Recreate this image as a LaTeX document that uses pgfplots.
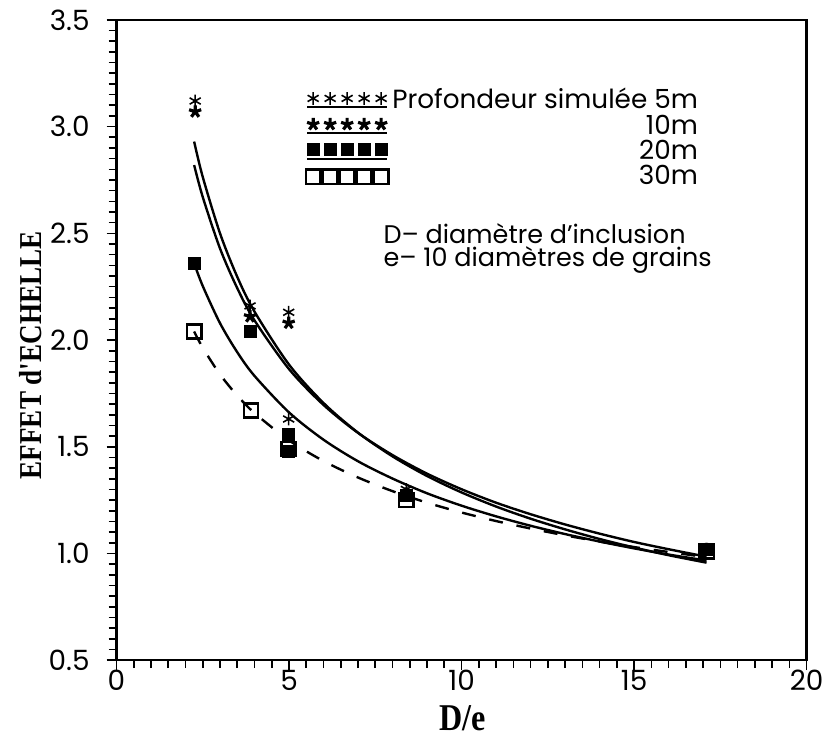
\documentclass[border=0pt]{standalone}
\usepackage{fontspec}
\setmainfont{Poppins}
\newfontfamily\labfont[FakeStretch=0.85]{Liberation Serif}
\usepackage{pgfplots}
\pgfplotsset{compat=1.18}
\pgfplotsset{
  mylegend/.style={legend image code/.code={
    \draw[##1] plot coordinates {(0.1cm,0.03cm) (0.4cm,0.03cm) (0.7cm,0.03cm) (1.0cm,0.03cm) (1.3cm,0.03cm)};
    \draw[line width=1pt] (0cm,-0.13cm) -- (1.4cm,-0.13cm);
  }},
  mylegendnoline/.style={legend image code/.code={
    \draw[##1] plot coordinates {(0.1cm,0cm) (0.4cm,0cm) (0.7cm,0cm) (1.0cm,0cm) (1.3cm,0cm)};
  }},
}
\begin{document}
\begin{tikzpicture}
\begin{axis}[
  scale only axis, width=346.5pt, height=321.5pt,
  xmin=0, xmax=20, ymin=0.5, ymax=3.5,
  xtick={0,5,10,15,20}, ytick={0.5,1.0,1.5,2.0,2.5,3.0,3.5},
  minor x tick num=9, minor y tick num=9,
  /pgf/number format/assume math mode=true,
  yticklabel style={xshift=-5pt, /pgf/number format/fixed, /pgf/number format/fixed zerofill, /pgf/number format/precision=1},
  xticklabel style={yshift=3.5pt},
  tick align=outside, tick pos=left,
  major tick length=5pt, minor tick length=4pt,
  axis line style={line width=1.2pt},
  every tick/.style={black, line width=0.8pt},
  ticklabel style={font=\fontsize{14}{16}\selectfont},
  xlabel={\labfont\bfseries D/e},
  ylabel={\labfont\bfseries EFFET d'ECHELLE},
  xlabel style={at={(axis description cs:0.502,-0.09)}, anchor=center, font=\fontsize{19}{21}\selectfont},
  ylabel style={at={(axis description cs:-0.125,0.476)}, anchor=center, font=\fontsize{16}{18}\selectfont},
  legend cell align=right,
  legend style={at={(axis description cs:0.274,0.9)}, anchor=north west, draw=none, fill=none,
    font=\fontsize{13.2}{14}\selectfont, row sep=-2.5pt, inner sep=0pt},
]
% fitted curves
\addplot[line width=1.2pt, smooth, forget plot] coordinates {
(2.25,2.93) (2.5,2.764) (3,2.500) (3.5,2.296) (4,2.133) (5,1.885) (6,1.705) (7,1.566) (8,1.455) (9,1.363) (10,1.286) (11,1.220) (12,1.163) (13,1.113) (14,1.068) (15,1.028) (16,0.992) (17.1,0.957)};
\addplot[line width=1.2pt, smooth, forget plot] coordinates {
(2.25,2.82) (2.5,2.670) (3,2.429) (3.5,2.243) (4,2.092) (5,1.864) (6,1.696) (7,1.565) (8,1.461) (9,1.374) (10,1.301) (11,1.238) (12,1.184) (13,1.136) (14,1.093) (15,1.054) (16,1.020) (17.1,0.985)};
\addplot[line width=1.2pt, smooth, forget plot] coordinates {
(2.25,2.36) (2.5,2.253) (3,2.079) (3.5,1.943) (4,1.832) (5,1.661) (6,1.533) (7,1.432) (8,1.351) (9,1.282) (10,1.224) (11,1.174) (12,1.130) (13,1.091) (14,1.056) (15,1.024) (16,0.995) (17.1,0.967)};
\addplot[line width=1.2pt, smooth, dash pattern=on 7pt off 7pt, forget plot] coordinates {
(2.25,2.04) (2.5,1.964) (3,1.839) (3.5,1.740) (4,1.658) (5,1.530) (6,1.433) (7,1.356) (8,1.292) (9,1.238) (10,1.192) (11,1.152) (12,1.117) (13,1.085) (14,1.056) (15,1.030) (16,1.007) (17.1,0.983)};
% measured points
\addplot[only marks, mark=asterisk, mark size=3.2pt, line width=0.8pt, mylegend] coordinates {
(2.28,3.12) (3.87,2.16) (4.99,2.13) (4.99,1.63) (8.4,1.30) (17.1,1.02)};
\addlegendentry{Profondeur simulée 5m}
\addplot[only marks, mark=star, mark size=3.2pt, line width=1.6pt, mylegend] coordinates {
(2.28,3.07) (3.87,2.11) (4.99,2.08) (8.4,1.28) (17.1,1.02)};
\addlegendentry{10m}
\addplot[only marks, mark=square*, mark size=3pt, mylegend] coordinates {
(2.25,2.36) (3.87,2.04) (4.99,1.56) (4.99,1.48) (8.4,1.27) (17.1,1.02)};
\addlegendentry{20m}
\addplot[only marks, mark=square, mark size=3.6pt, line width=1.2pt, mark options={fill=white}, mylegendnoline] coordinates {
(2.25,2.04) (3.9,1.67) (4.99,1.49) (8.4,1.25) (17.1,1.01)};
\addlegendentry{30m}
\node[anchor=west, align=left, font=\fontsize{12.8}{11.5}\selectfont, inner sep=0pt] at (axis cs:7.73,2.43) {D-- diamètre d'inclusion\\e-- 10 diamètres de grains};
\end{axis}
\path (-58.5pt,-36.5pt) rectangle (356.5pt,331.5pt);
\end{tikzpicture}
\end{document}
